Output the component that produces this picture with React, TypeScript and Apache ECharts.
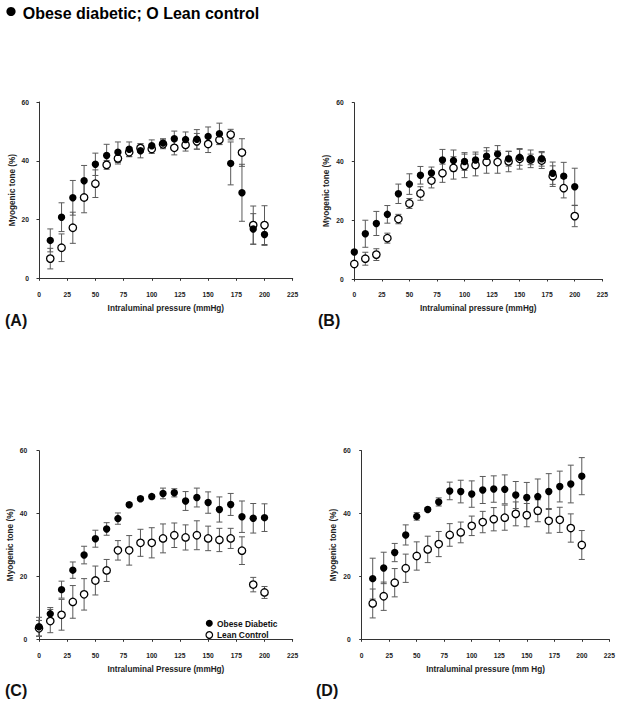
import React, { useEffect, useRef } from "react";
import * as echarts from "echarts";

// ---------- Data ----------
const xTicks = [0, 25, 50, 75, 100, 125, 150, 175, 200, 225];
const yTicks = [0, 20, 40, 60];

// Panel A
const pressureA = [10, 20, 30, 40, 50, 60, 70, 80, 90, 100, 110, 120, 130, 140, 150, 160, 170, 180, 190, 200];
const obeseA = [12.9, 20.8, 27.4, 33.2, 38.8, 41.8, 42.9, 43.9, 43.4, 45.1, 46.0, 47.5, 47.2, 47.3, 48.3, 49.2, 39.1, 29.1, 16.8, 14.9];
const obeseErrA = [3.9, 4.9, 5.9, 5.2, 3.8, 3.8, 3.5, 2.5, 2.4, 2.0, 1.5, 2.6, 2.6, 3.3, 3.2, 3.6, 7.3, 9.7, 5.2, 3.7];
const leanA = [6.7, 10.4, 17.2, 27.5, 32.2, 38.6, 40.8, 42.9, 44.3, 44.0, 45.6, 44.4, 45.4, 46.6, 45.7, 47.1, 48.9, 42.8, 18.1, 18.1];
const leanErrA = [3.5, 4.7, 5.3, 5.2, 4.7, 1.5, 1.9, 1.5, 1.5, 1.5, 1.5, 2.4, 2.1, 2.7, 2.9, 1.6, 1.8, 4.7, 6.5, 6.6];

// Panel B
const pressureB = [0, 10, 20, 30, 40, 50, 60, 70, 80, 90, 100, 110, 120, 130, 140, 150, 160, 170, 180, 190, 200];
const obeseB = [9.2, 15.4, 18.9, 22.0, 29.0, 32.3, 35.3, 36.1, 40.5, 40.3, 40.0, 40.5, 41.8, 42.5, 40.9, 41.4, 40.9, 40.9, 36.0, 35.0, 31.4];
const obeseErrB = [0.6, 4.6, 4.1, 3.0, 3.3, 3.5, 3.0, 2.0, 3.6, 3.6, 3.0, 2.7, 2.9, 2.9, 2.5, 2.7, 3.0, 2.5, 3.8, 4.7, 6.3];
const leanB = [5.1, 6.9, 8.3, 13.9, 20.4, 25.7, 29.1, 33.5, 36.0, 37.8, 38.5, 38.8, 39.8, 39.8, 40.0, 40.9, 40.7, 40.3, 35.0, 30.9, 21.4];
const leanErrB = [0.5, 2.2, 2.0, 1.7, 1.6, 1.7, 2.3, 2.5, 3.1, 3.8, 4.0, 3.7, 3.8, 3.8, 3.5, 3.5, 1.8, 2.7, 3.5, 3.3, 3.6];

// Panel C
const pressureC = [0, 10, 20, 30, 40, 50, 60, 70, 80, 90, 100, 110, 120, 130, 140, 150, 160, 170, 180, 190, 200];
const obeseC = [4.0, 8.1, 15.8, 22.0, 26.8, 32.0, 35.1, 38.4, 42.8, 44.7, 45.4, 46.4, 46.6, 44.0, 45.1, 43.5, 41.3, 42.9, 39.0, 38.5, 38.7];
const obeseErrC = [3.0, 2.0, 2.7, 2.6, 2.8, 2.7, 2.0, 1.8, 0.6, 0.6, 0.7, 1.7, 1.3, 3.0, 3.0, 3.4, 4.0, 3.5, 5.0, 4.7, 4.4];
const leanC = [3.5, 5.8, 7.8, 11.9, 14.3, 18.7, 21.9, 28.3, 28.3, 30.7, 30.7, 32.1, 33.1, 32.4, 33.1, 32.1, 31.6, 32.1, 28.2, 17.4, 14.9];
const leanErrC = [2.5, 3.7, 4.9, 5.2, 5.0, 4.6, 3.5, 3.1, 4.7, 4.3, 4.8, 4.6, 3.9, 4.0, 4.6, 3.9, 3.7, 3.2, 4.4, 2.3, 1.9];

// Panel D
const pressureD = [10, 20, 30, 40, 50, 60, 70, 80, 90, 100, 110, 120, 130, 140, 150, 160, 170, 180, 190, 200];
const obeseD = [19.3, 22.7, 27.6, 33.2, 39.1, 41.3, 43.7, 47.2, 47.0, 46.2, 47.5, 47.8, 47.7, 45.9, 45.1, 45.4, 47.0, 48.6, 49.4, 51.9];
const obeseErrD = [6.5, 5.0, 2.9, 3.2, 1.2, 0.6, 1.3, 2.8, 3.6, 4.2, 4.3, 4.2, 4.6, 4.3, 4.8, 5.6, 5.7, 4.9, 6.0, 5.9];
const leanD = [11.4, 13.7, 18.0, 22.6, 26.5, 28.6, 30.3, 33.2, 34.0, 36.1, 37.3, 38.2, 38.7, 39.9, 39.5, 40.9, 37.7, 38.0, 35.4, 30.0];
const leanErrD = [4.6, 4.5, 4.5, 4.5, 4.5, 4.2, 4.0, 3.6, 3.3, 3.1, 3.4, 3.7, 4.0, 3.8, 3.7, 3.5, 3.9, 4.0, 4.5, 4.6];

const xTitles = [
  "Intraluminal pressure (mmHg)",
  "Intraluminal pressure (mmHg)",
  "Intraluminal Pressure (mmHg)",
  "Intraluminal pressure (mm Hg)",
];
const yTitle = "Myogenic tone (%)";
const panelLabels = ["(A)", "(B)", "(C)", "(D)"];
const topLegendText = "Obese diabetic; O Lean control";
const legendNames = ["Obese Diabetic", "Lean Control"];

const FONT = "'Liberation Sans', Arial, Helvetica, sans-serif";

// ---------- Layout ----------
const grids = [
  { left: 39, top: 102, width: 253.7, height: 176.3, xOff: 9.7, yOff: 8 },
  { left: 354.3, top: 102.7, width: 248, height: 176.3, xOff: 9, yOff: 8.6 },
  { left: 39, top: 450.7, width: 253.7, height: 188.6, xOff: 10, yOff: 9.7 },
  { left: 361.7, top: 450.7, width: 247.6, height: 188.6, xOff: 10, yOff: 9 },
];

const panels = [
  { x: pressureA, ob: obeseA, obE: obeseErrA, le: leanA, leE: leanErrA },
  { x: pressureB, ob: obeseB, obE: obeseErrB, le: leanB, leE: leanErrB },
  { x: pressureC, ob: obeseC, obE: obeseErrC, le: leanC, leE: leanErrC },
  { x: pressureD, ob: obeseD, obE: obeseErrD, le: leanD, leE: leanErrD },
];

const BAR_COLOR = "#5a5a5a";

function errRender(params: any, api: any) {
  const x = api.value(0);
  const y = api.value(1);
  const e = api.value(2);
  const top = api.coord([x, y + e]);
  const bot = api.coord([x, y - e]);
  const hw = 3;
  const style = { stroke: BAR_COLOR, lineWidth: 1 };
  return {
    type: "group",
    children: [
      { type: "line", shape: { x1: top[0], y1: top[1], x2: bot[0], y2: bot[1] }, style },
      { type: "line", shape: { x1: top[0] - hw, y1: top[1], x2: top[0] + hw, y2: top[1] }, style },
      { type: "line", shape: { x1: bot[0] - hw, y1: bot[1], x2: bot[0] + hw, y2: bot[1] }, style },
    ],
  };
}

function buildOption() {
  const axisLine = { show: true, lineStyle: { color: "#333", width: 1 } };
  const labelStyle = { fontSize: 6.7, fontWeight: "bold" as const, color: "#222", fontFamily: FONT };
  const nameStyle = { fontSize: 8.2, fontWeight: "bold" as const, color: "#222", fontFamily: FONT };

  const xAxis = grids.map((g, i) => ({
    type: "value",
    gridIndex: i,
    min: xTicks[0],
    max: xTicks[xTicks.length - 1],
    interval: 25,
    position: "bottom",
    offset: g.xOff,
    axisLine,
    axisTick: { show: true, length: 2.5, lineStyle: { color: "#333", width: 1 } },
    axisLabel: { ...labelStyle, margin: 3 },
    splitLine: { show: false },
    name: xTitles[i],
    nameLocation: "middle",
    nameGap: 16,
    nameTextStyle: nameStyle,
  }));

  const yAxis = grids.map((g, i) => ({
    type: "value",
    gridIndex: i,
    min: yTicks[0],
    max: yTicks[yTicks.length - 1],
    interval: 20,
    position: "left",
    offset: g.yOff,
    axisLine,
    axisTick: { show: true, length: 2.5, lineStyle: { color: "#333", width: 1 } },
    axisLabel: { ...labelStyle, margin: 2 },
    splitLine: { show: false },
    name: yTitle,
    nameLocation: "middle",
    nameRotate: 90,
    nameGap: 15,
    nameTextStyle: nameStyle,
  }));

  const series: any[] = [];
  panels.forEach((p, i) => {
    series.push({
      type: "custom",
      xAxisIndex: i,
      yAxisIndex: i,
      renderItem: errRender,
      encode: { x: 0, y: 1 },
      data: p.x.map((x, k) => [x, p.le[k], p.leE[k]]),
      silent: true,
      z: 1,
    });
    series.push({
      type: "custom",
      xAxisIndex: i,
      yAxisIndex: i,
      renderItem: errRender,
      encode: { x: 0, y: 1 },
      data: p.x.map((x, k) => [x, p.ob[k], p.obE[k]]),
      silent: true,
      z: 1,
    });
    series.push({
      type: "scatter",
      name: legendNames[1],
      xAxisIndex: i,
      yAxisIndex: i,
      symbol: "circle",
      symbolSize: 7.4,
      itemStyle: { color: "#fff", borderColor: "#000", borderWidth: 1.3, opacity: 1 },
      data: p.x.map((x, k) => [x, p.le[k]]),
      z: 3,
    });
    series.push({
      type: "scatter",
      name: legendNames[0],
      xAxisIndex: i,
      yAxisIndex: i,
      symbol: "circle",
      symbolSize: 7.4,
      itemStyle: { color: "#000", opacity: 1 },
      data: p.x.map((x, k) => [x, p.ob[k]]),
      z: 4,
    });
  });

  const labelPos = [
    { x: 5, y: 320 },
    { x: 318, y: 320 },
    { x: 5, y: 690 },
    { x: 316, y: 690 },
  ];

  const graphic: any[] = [
    { type: "circle", shape: { cx: 11, cy: 11.5, r: 4.6 }, style: { fill: "#000" } },
    {
      type: "text",
      x: 22.7,
      y: 13.5,
      style: {
        text: topLegendText,
        font: `bold 16px ${FONT}`,
        fill: "#000",
        verticalAlign: "middle",
        textAlign: "left",
      },
    },
    // Legend inside panel C
    { type: "circle", shape: { cx: 209.3, cy: 623.3, r: 3.5 }, style: { fill: "#000" } },
    {
      type: "text",
      x: 217,
      y: 623.5,
      style: { text: legendNames[0], font: `bold 8.4px ${FONT}`, fill: "#111", verticalAlign: "middle" },
    },
    {
      type: "circle",
      shape: { cx: 209.3, cy: 635, r: 3.3 },
      style: { fill: "#fff", stroke: "#000", lineWidth: 1.2 },
    },
    {
      type: "text",
      x: 217,
      y: 635.2,
      style: { text: legendNames[1], font: `bold 8.4px ${FONT}`, fill: "#111", verticalAlign: "middle" },
    },
    ...labelPos.map((lp, i) => ({
      type: "text",
      x: lp.x,
      y: lp.y,
      style: {
        text: panelLabels[i],
        font: `bold 16px ${FONT}`,
        fill: "#111",
        verticalAlign: "middle",
        textAlign: "left",
      },
    })),
  ];

  return {
    animation: false,
    backgroundColor: "#fff",
    grid: grids.map((g) => ({ left: g.left, top: g.top, width: g.width, height: g.height, containLabel: false })),
    xAxis,
    yAxis,
    series,
    graphic,
  };
}

export default function App() {
  const ref = useRef<HTMLDivElement>(null);
  useEffect(() => {
    if (!ref.current) return;
    const chart = echarts.init(ref.current, undefined, { renderer: "svg" });
    chart.setOption(buildOption() as any);
    return () => {
      chart.dispose();
    };
  }, []);
  return (
    <div
      ref={ref}
      style={{ position: "fixed", left: 0, top: 0, width: 622, height: 704, background: "#fff" }}
    />
  );
}
